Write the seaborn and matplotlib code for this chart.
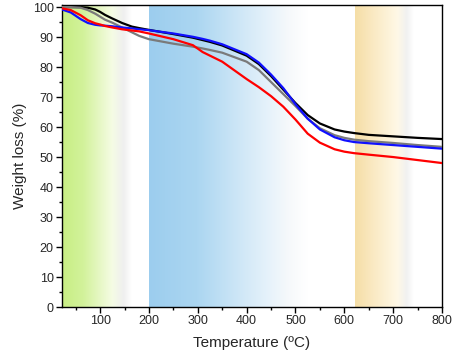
import numpy as np
import pandas as pd
import matplotlib
matplotlib.use("Agg")
import matplotlib.pyplot as plt
from matplotlib.colors import LinearSegmentedColormap
from matplotlib.ticker import MultipleLocator
import seaborn as sns

temp = [22, 40, 60, 75, 90, 100, 110, 125, 145, 165, 180, 200, 250, 290, 310, 325, 350,
        400, 425, 450, 475, 500, 525, 550, 580, 600, 620, 650, 700, 750, 800]
black = [100, 100, 100, 99.8, 99.2, 98.4, 97.4, 96.2, 94.7, 93.5, 93.0, 92.4, 91.0, 89.8, 89.0,
         88.4, 87.2, 83.8, 81.0, 77.0, 72.5, 68.0, 64.0, 61.2, 59.2, 58.5, 58.0, 57.4, 56.9, 56.4, 56.0]
grey = [100, 100, 99.8, 99.0, 97.8, 96.8, 95.8, 94.8, 93.2, 91.6, 90.4, 89.3, 87.8, 86.8, 86.2,
        85.7, 84.8, 81.8, 79.0, 75.0, 71.0, 67.0, 62.8, 59.6, 57.3, 56.4, 55.8, 55.3, 54.7, 54.0, 53.4]
blue = [99.2, 98.2, 96.0, 94.7, 94.1, 93.9, 93.8, 93.6, 93.2, 92.9, 92.6, 92.3, 91.2, 90.1, 89.4,
        88.8, 87.6, 84.3, 81.5, 77.5, 73.0, 67.6, 62.8, 59.2, 56.6, 55.6, 55.0, 54.6, 54.0, 53.4, 52.8]
red = [99.6, 99.0, 97.3, 95.6, 94.6, 94.2, 93.7, 93.2, 92.6, 92.2, 91.9, 91.2, 89.3, 87.3, 85.0,
       83.8, 81.8, 76.0, 73.3, 70.3, 66.8, 62.5, 57.8, 54.8, 52.6, 51.8, 51.3, 50.8, 50.0, 49.0, 48.0]

# shaded stages: (start, end, colours of the fade)
bands = [
    (22, 165, ["#c8ee84", "#d2f29a", "#f5fce4", "#efefef", "#ffffff"]),
    (200, 525, ["#9ccdee", "#abd6f1", "#e2f0fa", "#f6f9fb", "#ffffff"]),
    (622, 742, ["#f5dea6", "#fae9c2", "#fff8e6", "#f1f1f1", "#ffffff"]),
]

df = pd.DataFrame({"Temperature": temp, "black": black, "grey": grey, "blue": blue, "red": red})

sns.set_style("ticks")
plt.rcParams["font.family"] = ["Liberation Sans", "DejaVu Sans"]

fig = plt.figure(figsize=(4.54, 3.57), dpi=100)
ax = fig.add_axes([0.1366, 0.14, 0.837, 0.846])

ytop = 100.7
grad = np.linspace(0, 1, 256)[None, :]
for x0, x1, cols in bands:
    cmap = LinearSegmentedColormap.from_list("band", list(zip([0, 0.3, 0.72, 0.88, 1], cols)))
    ax.imshow(grad, cmap=cmap, extent=[x0, x1, 0, ytop], aspect="auto", zorder=0)

for name, c in [("black", "#000000"), ("grey", "#7a7a7a"), ("blue", "#1010ff"), ("red", "#ff0000")]:
    sns.lineplot(data=df, x="Temperature", y=name, color=c, linewidth=1.6, ax=ax, zorder=3)

ax.set_xlim(22, 800)
ax.set_ylim(0, ytop)
ax.xaxis.set_major_locator(MultipleLocator(100))
ax.xaxis.set_minor_locator(MultipleLocator(50))
ax.yaxis.set_major_locator(MultipleLocator(10))
ax.yaxis.set_minor_locator(MultipleLocator(5))
ax.tick_params(which="major", direction="out", length=4, width=1, labelsize=9, color="black", pad=2)
ax.tick_params(which="minor", direction="out", length=2.5, width=1, color="black")
for s in ax.spines.values():
    s.set_visible(True)
    s.set_linewidth(1)
    s.set_color("black")
ax.set_xlabel("Temperature (ºC)", fontsize=11, labelpad=6)
ax.set_ylabel("Weight loss (%)", fontsize=11, labelpad=4)

fig.savefig("out.png", dpi=100)
